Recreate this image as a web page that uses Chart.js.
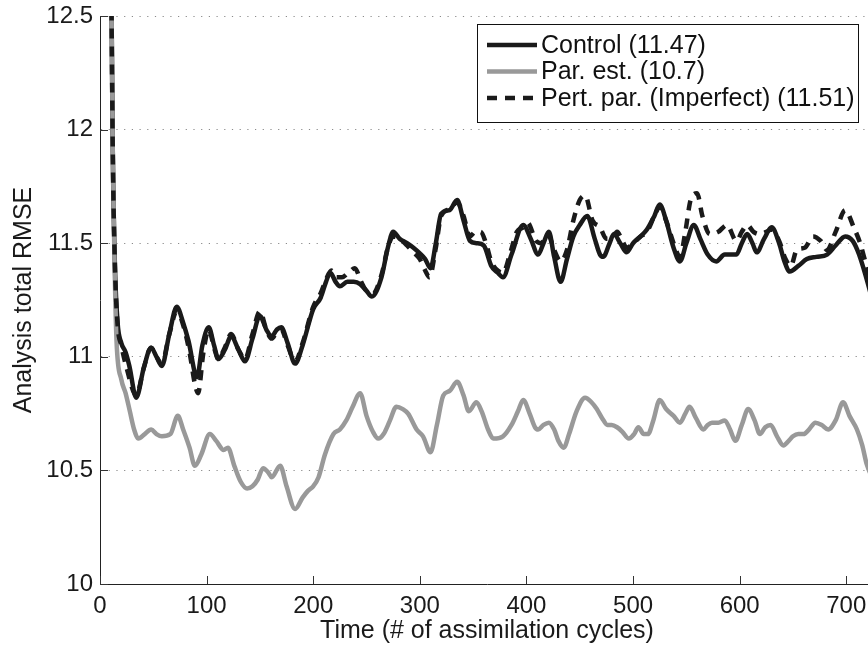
<!DOCTYPE html>
<html>
<head>
<meta charset="utf-8">
<title>Analysis total RMSE</title>
<script src="https://cdn.jsdelivr.net/npm/chart.js@4/dist/chart.umd.min.js"></script>
<style>
    html, body { margin: 0; padding: 0; background: #fff; overflow: hidden; }
    #wrap { position: relative; width: 876px; height: 645px; }
</style>
</head>
<body>
<div id="wrap"><canvas id="rmseChart"></canvas></div>
<script>

// assimilation cycle / RMSE pairs for each run
const controlCycles = [10, 12, 14, 16.5, 20, 24, 27.5, 34, 41, 48, 53, 58, 65, 72, 78, 83, 91, 96, 102, 107, 111, 117, 123, 130, 136, 143, 150, 156, 161, 166, 170, 176, 183, 190, 200, 207, 212, 216, 221, 225, 232, 238, 244, 250, 255, 264, 270, 275, 281, 288, 294, 300, 305, 310, 315, 320, 328, 335, 341, 347, 353, 360, 367, 373, 378, 386, 397, 404, 411, 416, 421, 426, 432, 438, 444, 450, 457, 464, 469, 472, 478, 482, 488, 494, 500, 507, 513, 520, 525, 531, 538, 544, 550, 557, 563, 570, 578, 586, 597, 602, 607, 612, 616, 623, 630, 637, 642, 647, 655, 663, 672, 682, 690, 699, 706, 712, 721, 726];
const controlRmse = [13.0, 11.9, 11.4, 11.15, 11.06, 11.02, 10.96, 10.82, 10.95, 11.04, 11.0, 10.96, 11.1, 11.22, 11.15, 11.07, 10.91, 11.05, 11.13, 11.05, 10.99, 11.03, 11.09, 11.03, 10.98, 11.08, 11.18, 11.12, 11.09, 11.12, 11.13, 11.06, 10.97, 11.05, 11.21, 11.26, 11.33, 11.37, 11.33, 11.31, 11.33, 11.33, 11.32, 11.29, 11.265, 11.35, 11.48, 11.55, 11.52, 11.5, 11.48, 11.455, 11.43, 11.39, 11.5, 11.63, 11.646, 11.69, 11.6, 11.51, 11.5, 11.49, 11.4, 11.37, 11.35, 11.45, 11.58, 11.52, 11.45, 11.5, 11.55, 11.44, 11.33, 11.43, 11.53, 11.58, 11.62, 11.52, 11.45, 11.44, 11.5, 11.54, 11.5, 11.46, 11.5, 11.53, 11.56, 11.62, 11.67, 11.6, 11.48, 11.42, 11.5, 11.58, 11.52, 11.45, 11.42, 11.45, 11.45, 11.5, 11.54, 11.5, 11.46, 11.52, 11.57, 11.5, 11.42, 11.375, 11.4, 11.43, 11.44, 11.45, 11.49, 11.53, 11.51, 11.45, 11.31, 11.22];

const parEstCycles = [10, 12, 13.5, 15.5, 20, 24, 28, 32, 36, 42, 48, 53, 58, 66, 73, 78, 84, 89, 95, 103, 109, 116, 120, 126, 132, 138, 143, 148, 153, 158, 161, 169, 175, 183, 190, 195, 200, 205, 211, 219, 225, 231, 237, 244, 250, 256, 261, 266, 272, 278, 284, 289, 297, 303, 310, 316, 322, 328, 335, 341, 346, 353, 358, 364, 369, 378, 386, 392, 397, 403, 408, 411, 416, 421, 426, 430, 435, 440, 447, 455, 461, 466, 471, 476, 480, 485, 490, 496, 501, 505, 510, 514, 519, 525, 531, 538, 544, 549, 553, 559, 566, 570, 574, 580, 586, 591, 596, 602, 608, 614, 619, 624, 629, 635, 641, 646, 650, 655, 660, 665, 671, 677, 683, 690, 697, 703, 710, 715, 719, 726];
const parEstRmse = [13.0, 11.9, 11.45, 11.07, 10.9, 10.84, 10.76, 10.68, 10.64, 10.66, 10.68, 10.66, 10.65, 10.66, 10.74, 10.68, 10.6, 10.52, 10.57, 10.66, 10.63, 10.59, 10.6, 10.52, 10.45, 10.42, 10.43, 10.46, 10.51, 10.49, 10.47, 10.52, 10.43, 10.33, 10.38, 10.41, 10.43, 10.47, 10.57, 10.66, 10.68, 10.72, 10.78, 10.84, 10.74, 10.67, 10.64, 10.66, 10.72, 10.78, 10.77, 10.75, 10.68, 10.65, 10.58, 10.7, 10.83, 10.85, 10.89, 10.83, 10.76, 10.8, 10.76, 10.68, 10.64, 10.65, 10.7, 10.76, 10.81, 10.75, 10.69, 10.68, 10.7, 10.71, 10.68, 10.63, 10.6, 10.66, 10.76, 10.82, 10.8, 10.77, 10.73, 10.7, 10.7, 10.69, 10.67, 10.64, 10.66, 10.69, 10.66, 10.66, 10.72, 10.81, 10.77, 10.74, 10.71, 10.75, 10.78, 10.73, 10.68, 10.7, 10.71, 10.71, 10.72, 10.68, 10.63, 10.7, 10.77, 10.72, 10.66, 10.69, 10.7, 10.65, 10.61, 10.63, 10.65, 10.66, 10.66, 10.68, 10.71, 10.7, 10.68, 10.72, 10.8, 10.74, 10.68, 10.61, 10.53, 10.45];

const pertCycles = [10, 12, 14, 16.5, 20, 25, 34, 41, 48, 53, 58, 65, 72, 78, 84, 89, 92, 97, 102, 107, 111, 117, 123, 130, 136, 143, 150, 156, 161, 166, 170, 176, 183, 190, 200, 207, 212, 217, 222, 227, 233, 239, 245, 250, 256, 264, 270, 275, 281, 288, 294, 300, 305, 309, 315, 320, 328, 335, 341, 347, 352, 357, 362, 367, 373, 378, 385, 391, 397, 401, 409, 414, 420, 426, 432, 438, 444, 450, 455, 462, 469, 475, 480, 485, 490, 494, 500, 507, 513, 520, 525, 531, 538, 544, 549, 554, 560, 565, 572, 580, 588, 597, 602, 607, 613, 619, 625, 630, 637, 643, 648, 653.5, 661, 669, 676, 682, 690, 699, 707, 713, 719, 726];
const pertRmse = [13.0, 11.9, 11.4, 11.14, 11.05, 10.95, 10.83, 10.95, 11.04, 11.0, 10.97, 11.1, 11.2, 11.14, 11.02, 10.88, 10.84, 11.02, 11.12, 11.04, 10.99, 11.04, 11.1, 11.03, 10.99, 11.1, 11.2, 11.12, 11.08, 11.11, 11.12, 11.05, 10.98, 11.06, 11.22, 11.28, 11.34, 11.38, 11.35, 11.35, 11.37, 11.39, 11.33, 11.29, 11.28, 11.36, 11.48, 11.53, 11.52, 11.49, 11.46, 11.43, 11.38, 11.35, 11.48, 11.62, 11.65, 11.68, 11.62, 11.53, 11.55, 11.55, 11.5, 11.42, 11.38, 11.37, 11.46, 11.55, 11.57, 11.59, 11.51, 11.5, 11.54, 11.47, 11.42, 11.47, 11.6, 11.69, 11.71, 11.6, 11.57, 11.52, 11.52, 11.55, 11.51, 11.48, 11.5, 11.53, 11.55, 11.62, 11.66, 11.6, 11.5, 11.44, 11.55, 11.69, 11.72, 11.62, 11.54, 11.55, 11.58, 11.51, 11.55, 11.58, 11.55, 11.54, 11.55, 11.56, 11.51, 11.43, 11.4, 11.47, 11.48, 11.53, 11.51, 11.47, 11.55, 11.645, 11.57, 11.5, 11.4, 11.3];

const xTickValues = [0, 100, 200, 300, 400, 500, 600, 700];
const yTickValues = [10, 10.5, 11, 11.5, 12, 12.5];

const seriesLabels = ["Control (11.47)", "Par. est. (10.7)", "Pert. par. (Imperfect) (11.51)"];

function toPoints(xs, ys){
    return xs.map((x, i) => ({ x: x, y: ys[i] }));
}

const FONT = "'Liberation Sans', Arial, Helvetica, sans-serif";

Chart.defaults.font.family = FONT;
Chart.defaults.color = "#1a1a1a";

// MATLAB style ticks pointing into the axes
const innerTicks = {
    id: "innerTicks",
    afterDatasetsDraw(chart){
        const { ctx, chartArea, scales } = chart;
        ctx.save();
        ctx.strokeStyle = "#333";
        ctx.lineWidth = 1;
        ctx.beginPath();
        yTickValues.forEach(v => {
            const py = Math.round(scales.y.getPixelForValue(v)) + 0.5;
            ctx.moveTo(chartArea.left, py);
            ctx.lineTo(chartArea.left + 8, py);
        });
        xTickValues.forEach(v => {
            const px = Math.round(scales.x.getPixelForValue(v)) + 0.5;
            ctx.moveTo(px, chartArea.bottom);
            ctx.lineTo(px, chartArea.bottom - 8);
        });
        ctx.stroke();
        ctx.restore();
    }
};

// boxed legend in the top right corner of the axes
const boxLegend = {
    id: "boxLegend",
    afterDraw(chart){
        const { ctx, chartArea } = chart;
        const sets = chart.data.datasets;
        ctx.save();
        ctx.font = "25px " + FONT;
        let textW = 0;
        sets.forEach(ds => { textW = Math.max(textW, ctx.measureText(ds.label).width); });
        const right = chartArea.right - 16;
        const left = Math.round(right - (10 + 50 + 4 + textW + 3));
        const top = Math.round(chartArea.top) + 8;
        const h = 98;
        ctx.fillStyle = "#fff";
        ctx.fillRect(left, top, right - left, h);
        ctx.strokeStyle = "#111";
        ctx.lineWidth = 1;
        ctx.strokeRect(left + 0.5, top + 0.5, right - left, h);
        sets.forEach((ds, i) => {
            const y = top + 21 + i * 26.5;
            ctx.strokeStyle = ds.borderColor;
            ctx.lineWidth = ds.borderWidth;
            ctx.setLineDash(ds.borderDash || []);
            ctx.beginPath();
            ctx.moveTo(left + 10, y);
            ctx.lineTo(left + 60, y);
            ctx.stroke();
            ctx.setLineDash([]);
            ctx.fillStyle = "#111";
            ctx.textBaseline = "middle";
            ctx.textAlign = "left";
            ctx.fillText(ds.label, left + 64, y + 1);
        });
        ctx.restore();
    }
};

const ctx = document.getElementById("rmseChart");

new Chart(ctx, {

    type: "line",

    data: {

        datasets: [

            {
                label: seriesLabels[0],
                data: toPoints(controlCycles, controlRmse),
                borderColor: "#1a1a1a",
                borderWidth: 4.5,
                order: 3
            },

            {
                label: seriesLabels[1],
                data: toPoints(parEstCycles, parEstRmse),
                borderColor: "#999999",
                borderWidth: 4.5,
                order: 2
            },

            {
                label: seriesLabels[2],
                data: toPoints(pertCycles, pertRmse),
                borderColor: "#1a1a1a",
                borderWidth: 4.5,
                borderDash: [10, 8],
                order: 1
            }

        ]

    },

    options: {

        responsive: true,
        maintainAspectRatio: false,
        animation: false,
        parsing: false,

        layout: {
            padding: { top: 16, right: 2, left: 0, bottom: 0 }
        },

        elements: {
            point: { radius: 0 },
            line: {
                cubicInterpolationMode: "monotone",
                borderCapStyle: "butt",
                borderJoinStyle: "round",
                fill: false
            }
        },

        datasets: {
            line: { clip: 0 }
        },

        plugins: {
            legend: { display: false },
            tooltip: { enabled: false }
        },

        scales: {

            x: {
                type: "linear",
                min: 0,
                max: 726,
                grid: { display: false, drawTicks: false },
                border: { display: true, color: "#222", width: 1 },
                afterBuildTicks: (scale) => {
                    scale.ticks = xTickValues.map(v => ({ value: v }));
                },
                afterFit: (scale) => { scale.height = 61; },
                ticks: {
                    autoSkip: false,
                    maxRotation: 0,
                    padding: 8,
                    color: "#1a1a1a",
                    font: { size: 24 },
                    callback: (v) => String(v)
                },
                title: {
                    display: true,
                    text: "Time (# of assimilation cycles)",
                    color: "#1a1a1a",
                    font: { size: 25, lineHeight: 1.1 },
                    padding: { top: 0, bottom: 0 }
                }
            },

            y: {
                min: 10,
                max: 12.5,
                grid: {
                    color: "#8a8a8a",
                    lineWidth: 1,
                    drawTicks: false
                },
                border: { display: true, color: "#222", width: 1, dash: [1.2, 6.5] },
                afterBuildTicks: (scale) => {
                    scale.ticks = yTickValues.map(v => ({ value: v }));
                },
                afterFit: (scale) => {
                    scale.width = 100;
                    // let the layout padding alone decide the top edge
                    scale.paddingTop = 0;
                    scale.paddingBottom = 0;
                },
                ticks: {
                    padding: 7,
                    color: "#1a1a1a",
                    font: { size: 24 },
                    callback: (v) => String(v)
                },
                title: {
                    display: true,
                    text: "Analysis total RMSE",
                    color: "#1a1a1a",
                    font: { size: 25, lineHeight: 1.1 },
                    padding: { top: 10, bottom: 0 }
                }
            }

        }

    },

    plugins: [innerTicks, boxLegend]

});

</script>
</body>
</html>
